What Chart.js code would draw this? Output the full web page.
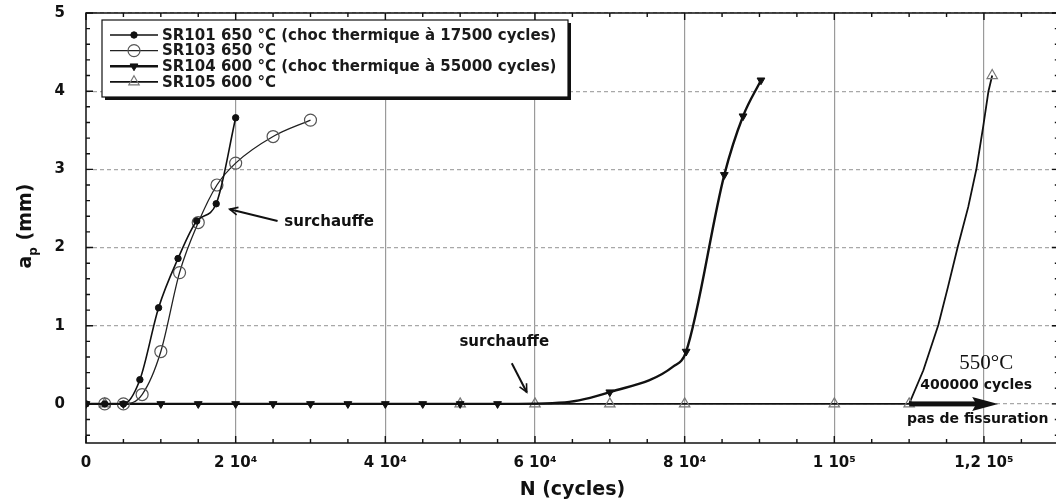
<!DOCTYPE html>
<html>
<head>
<meta charset="utf-8">
<script src="https://cdn.jsdelivr.net/npm/chart.js@4.4.1/dist/chart.umd.min.js"></script>
<style>
  html, body { margin: 0; padding: 0; background: #fff; overflow: hidden; }
  #wrap { width: 1066px; height: 504px; }
</style>
</head>
<body>
<div id="wrap"><canvas id="crackChart" width="1066" height="504"></canvas></div>
<script>
const seriesNames = [
  "SR101 650 °C (choc thermique à 17500 cycles)",
  "SR103 650 °C",
  "SR104 600 °C (choc thermique à 55000 cycles)",
  "SR105 600 °C",
];

// N (cycles) / a_p (mm)
const sr101N = [0, 2500, 5000, 7200, 9700, 12300, 14800, 17400, 20000];
const sr101A = [0, 0, 0, 0.31, 1.23, 1.86, 2.34, 2.56, 3.66];

const sr103N = [2500, 5000, 7500, 10000, 12500, 15000, 17500, 20000, 25000, 30000];
const sr103A = [0, 0, 0.12, 0.67, 1.68, 2.32, 2.8, 3.08, 3.42, 3.63];

const sr104N = [0, 5000, 10000, 15000, 20000, 25000, 30000, 35000, 40000, 45000, 50000, 55000, 70000, 80200, 85300, 87800, 90200];
const sr104A = [0, 0, 0, 0, 0, 0, 0, 0, 0, 0, 0, 0, 0.15, 0.67, 2.93, 3.68, 4.14];
// points traced on the drawn curve (no marker there)
const sr104TraceN = [64000, 78500];
const sr104TraceA = [0.02, 0.48];

const sr105N = [2500, 50000, 60000, 70000, 80000, 100000, 110000, 121100];
const sr105A = [0, 0, 0, 0, 0, 0, 0, 4.2];
const sr105TraceN = [111900, 113900, 115200, 116500, 117900, 119000, 119900, 120600];
const sr105TraceA = [0.43, 1.01, 1.5, 2.01, 2.52, 3.01, 3.55, 4.0];

const xMajor = [0, 20000, 40000, 60000, 80000, 100000, 120000];
const xTickLabels = ["0", "2 10⁴", "4 10⁴", "6 10⁴", "8 10⁴", "1 10⁵", "1,2 10⁵"];
const yMajor = [0, 1, 2, 3, 4, 5];
const yTickLabels = ["0", "1", "2", "3", "4", "5"];

const FONT = '"DejaVu Sans", Verdana, sans-serif';

function toPoints(ns, as, traceN, traceA) {
  const pts = ns.map((n, i) => ({ x: n, y: as[i], marker: true }));
  if (traceN) traceN.forEach((n, i) => pts.push({ x: n, y: traceA[i], marker: false }));
  return pts.sort((p, q) => p.x - q.x);
}

const xTicks = [];
for (let v = 0; v <= 130000; v += 5000) xTicks.push(v);
const yTicks = [];
for (let i = -2; i <= 25; i++) yTicks.push(Math.round(i * 2) / 10);

// annotations in data units
const notes = [
  { text: "surchauffe", n: 26500, a: 2.33, font: "bold 15px " + FONT, align: "left" },
  { text: "surchauffe", n: 49900, a: 0.79, font: "bold 15px " + FONT, align: "left" },
  { text: "550°C", n: 120300, a: 0.52, font: '21px "Liberation Serif", "Times New Roman", serif', align: "center" },
  { text: "400000 cycles", n: 111500, a: 0.24, font: "bold 14px " + FONT, align: "left" },
  { text: "pas de fissuration", n: 109700, a: -0.2, font: "bold 14px " + FONT, align: "left" },
];
const arrows = [
  { n1: 25600, a1: 2.34, n2: 19200, a2: 2.49 },
  { n1: 56900, a1: 0.52, n2: 58900, a2: 0.15 },
];

function drawMarker(ctx, style, x, y, r, rot, fill, stroke, lw) {
  ctx.beginPath();
  if (style === "circle") {
    ctx.arc(x, y, r, 0, Math.PI * 2);
  } else {
    let ang = rot * Math.PI / 180;
    for (let k = 0; k < 3; k++) {
      const px = x + Math.sin(ang) * r, py = y - Math.cos(ang) * r;
      if (k === 0) ctx.moveTo(px, py); else ctx.lineTo(px, py);
      ang += 2 * Math.PI / 3;
    }
    ctx.closePath();
  }
  ctx.fillStyle = fill;
  ctx.fill();
  ctx.lineWidth = lw;
  ctx.strokeStyle = stroke;
  ctx.stroke();
}

const framePlugin = {
  id: "frame",
  afterDatasetsDraw(chart) {
    const { ctx, chartArea: ca, scales: { x, y } } = chart;
    ctx.save();
    // annotations
    ctx.fillStyle = "#111";
    ctx.textBaseline = "middle";
    notes.forEach(t => {
      ctx.font = t.font;
      ctx.textAlign = t.align;
      ctx.fillText(t.text, x.getPixelForValue(t.n), y.getPixelForValue(t.a));
    });
    ctx.strokeStyle = "#111";
    ctx.fillStyle = "#111";
    arrows.forEach(a => {
      const x1 = x.getPixelForValue(a.n1), y1 = y.getPixelForValue(a.a1);
      const x2 = x.getPixelForValue(a.n2), y2 = y.getPixelForValue(a.a2);
      const ang = Math.atan2(y2 - y1, x2 - x1);
      ctx.lineWidth = 2;
      ctx.beginPath();
      ctx.moveTo(x1, y1);
      ctx.lineTo(x2, y2);
      ctx.stroke();
      ctx.lineWidth = 1.6;
      ctx.beginPath();
      ctx.moveTo(x2 - 9 * Math.cos(ang - 0.45), y2 - 9 * Math.sin(ang - 0.45));
      ctx.lineTo(x2, y2);
      ctx.lineTo(x2 - 9 * Math.cos(ang + 0.45), y2 - 9 * Math.sin(ang + 0.45));
      ctx.stroke();
    });
    // thick arrow "pas de fissuration"
    const ax1 = x.getPixelForValue(110000), ax2 = x.getPixelForValue(121900), ay = y.getPixelForValue(0);
    ctx.fillRect(ax1, ay - 2.5, ax2 - ax1 - 20, 5);
    ctx.beginPath();
    ctx.moveTo(ax2, ay);
    ctx.lineTo(ax2 - 26, ay - 7);
    ctx.lineTo(ax2 - 22, ay);
    ctx.lineTo(ax2 - 26, ay + 7);
    ctx.closePath();
    ctx.fill();

    // frame with inward ticks
    ctx.strokeStyle = "#111";
    ctx.lineWidth = 1.5;
    ctx.strokeRect(ca.left, ca.top, ca.right - ca.left, ca.bottom - ca.top);
    ctx.lineWidth = 1.4;
    ctx.beginPath();
    xTicks.forEach(v => {
      const px = x.getPixelForValue(v);
      const len = xMajor.includes(v) ? 7 : 4;
      ctx.moveTo(px, ca.bottom); ctx.lineTo(px, ca.bottom - len);
      ctx.moveTo(px, ca.top); ctx.lineTo(px, ca.top + len);
    });
    yTicks.forEach(v => {
      const py = y.getPixelForValue(v);
      const len = Number.isInteger(v) ? 7 : 4;
      ctx.moveTo(ca.left, py); ctx.lineTo(ca.left + len, py);
      ctx.moveTo(ca.right, py); ctx.lineTo(ca.right - len, py);
    });
    ctx.stroke();

    // y title with subscript
    ctx.translate(31, (ca.top + ca.bottom) / 2 - 2);
    ctx.rotate(-Math.PI / 2);
    ctx.textAlign = "left";
    ctx.textBaseline = "alphabetic";
    ctx.fillStyle = "#111";
    const big = "bold 19px " + FONT, small = "bold 12px " + FONT;
    ctx.font = big; const w1 = ctx.measureText("a").width; const w3 = ctx.measureText(" (mm)").width;
    ctx.font = small; const w2 = ctx.measureText("p").width;
    const s = -(w1 + w2 + w3) / 2;
    ctx.font = big; ctx.fillText("a", s, 0);
    ctx.font = small; ctx.fillText("p", s + w1, 6);
    ctx.font = big; ctx.fillText(" (mm)", s + w1 + w2, 0);
    ctx.restore();
  },
  afterDraw(chart) {
    // legend box
    const { ctx } = chart;
    const bx = 102, by = 20, bw = 466, bh = 77;
    ctx.save();
    ctx.fillStyle = "#111";
    ctx.fillRect(bx + 3, by + 3, bw, bh);
    ctx.fillStyle = "#fff";
    ctx.fillRect(bx, by, bw, bh);
    ctx.strokeStyle = "#111";
    ctx.lineWidth = 1.2;
    ctx.strokeRect(bx, by, bw, bh);
    ctx.font = "bold 15px " + FONT;
    ctx.textBaseline = "middle";
    ctx.textAlign = "left";
    chart.data.datasets.forEach((ds, i) => {
      const ry = 35 + i * 15.6;
      ctx.strokeStyle = ds.borderColor;
      ctx.lineWidth = ds.borderWidth;
      ctx.beginPath();
      ctx.moveTo(110, ry);
      ctx.lineTo(158, ry);
      ctx.stroke();
      drawMarker(ctx, ds.pointStyle, 134, ry, ds.legendRadius, ds.pointRotation || 0,
        ds.pointBackgroundColor, ds.pointBorderColor, ds.pointBorderWidth);
      ctx.fillStyle = "#1a1a1a";
      ctx.fillText(ds.label, 162, ry + 1);
    });
    ctx.restore();
  },
};

const chart = new Chart(document.getElementById("crackChart").getContext("2d"), {
  type: "scatter",
  data: {
    datasets: [
      {
        label: seriesNames[0],
        data: toPoints(sr101N, sr101A),
        showLine: true,
        borderColor: "#111",
        borderWidth: 1.6,
        pointStyle: "circle",
        pointRadius: 3.2,
        legendRadius: 3.2,
        pointBackgroundColor: "#111",
        pointBorderColor: "#111",
        pointBorderWidth: 1,
        cubicInterpolationMode: "monotone",
      },
      {
        label: seriesNames[1],
        data: toPoints(sr103N, sr103A),
        showLine: true,
        borderColor: "#222",
        borderWidth: 1.3,
        pointStyle: "circle",
        pointRadius: 6,
        legendRadius: 6,
        pointBackgroundColor: "rgba(255,255,255,0)",
        pointBorderColor: "#555",
        pointBorderWidth: 1.2,
        cubicInterpolationMode: "monotone",
      },
      {
        label: seriesNames[2],
        data: toPoints(sr104N, sr104A, sr104TraceN, sr104TraceA),
        showLine: true,
        borderColor: "#111",
        borderWidth: 2.4,
        pointStyle: "triangle",
        pointRotation: 180,
        pointRadius: c => (c.raw && c.raw.marker ? 4.5 : 0),
        legendRadius: 4.5,
        pointBackgroundColor: "#111",
        pointBorderColor: "#111",
        pointBorderWidth: 1,
        cubicInterpolationMode: "monotone",
      },
      {
        label: seriesNames[3],
        data: toPoints(sr105N, sr105A, sr105TraceN, sr105TraceA),
        showLine: true,
        borderColor: "#111",
        borderWidth: 1.8,
        pointStyle: "triangle",
        pointRadius: c => (c.raw && c.raw.marker ? 6 : 0),
        legendRadius: 6,
        pointBackgroundColor: "rgba(255,255,255,0)",
        pointBorderColor: "#777",
        pointBorderWidth: 1.2,
        tension: 0,
      },
    ],
  },
  options: {
    responsive: false,
    animation: false,
    devicePixelRatio: 1,
    layout: { padding: { top: 13, right: 5, left: 0, bottom: 0 } },
    plugins: { legend: { display: false }, tooltip: { enabled: false } },
    scales: {
      x: {
        type: "linear",
        min: 0,
        max: 130000,
        afterBuildTicks: s => { s.ticks = xTicks.map(v => ({ value: v })); },
        afterFit: s => { s.height = 61; s.paddingLeft = 0; s.paddingRight = 0; },
        ticks: {
          autoSkip: false,
          maxRotation: 0,
          padding: 11,
          color: "#111",
          font: { family: FONT, size: 15, weight: "bold" },
          callback: v => { const i = xMajor.indexOf(v); return i >= 0 ? xTickLabels[i] : ""; },
        },
        grid: {
          drawTicks: false,
          color: c => (c.tick && xMajor.includes(c.tick.value) && c.tick.value > 0 ? "#9a9a9a" : "rgba(0,0,0,0)"),
          lineWidth: 1.2,
        },
        border: { display: false },
        title: {
          display: true,
          text: "N (cycles)",
          color: "#111",
          font: { family: FONT, size: 19, weight: "bold" },
          padding: { top: 0, bottom: 3 },
        },
      },
      y: {
        type: "linear",
        min: -0.5,
        max: 5,
        afterBuildTicks: s => { s.ticks = yTicks.map(v => ({ value: v })); },
        afterFit: s => { s.width = 86; s.paddingTop = 0; s.paddingBottom = 0; },
        ticks: {
          autoSkip: false,
          padding: 21,
          color: "#111",
          font: { family: FONT, size: 15, weight: "bold" },
          callback: v => { const i = yMajor.indexOf(v); return i >= 0 ? yTickLabels[i] : ""; },
        },
        grid: {
          drawTicks: false,
          color: c => (c.tick && Number.isInteger(c.tick.value) ? "#a8a8a8" : "rgba(0,0,0,0)"),
          lineWidth: 1.2,
        },
        border: { display: false, dash: [4, 3] },
      },
    },
  },
  plugins: [framePlugin],
});

// nudge layout padding until the plot area sits where it does in the figure
const plotBox = { top: 13, right: 1061, bottom: 443 };
for (let k = 0; k < 10; k++) {
  const ca = chart.chartArea;
  const p = chart.config.options.layout.padding;
  p.top += (plotBox.top - ca.top) / 2;
  p.right += (ca.right - plotBox.right) / 2;
  p.bottom += (ca.bottom - plotBox.bottom) / 2;
  chart.update();
}
</script>
</body>
</html>
